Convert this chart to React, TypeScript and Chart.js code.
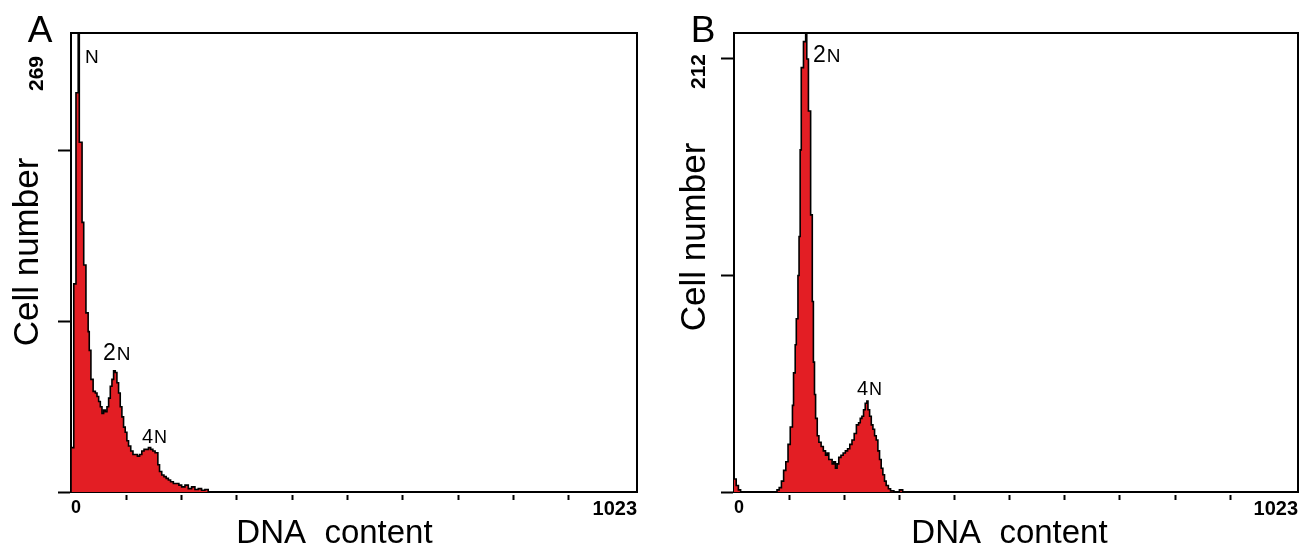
import React, { useEffect, useRef } from 'react';
import { Chart, registerables } from 'chart.js';

Chart.register(...registerables);

const FONT = "'Liberation Sans', Arial, Helvetica, sans-serif";
const RED = 'rgb(227, 30, 36)';

// ---- shared axis data ----
const xMax = 1023;
const xTicks = [0, 100, 200, 300, 400, 500, 600, 700, 800, 900, 1023];
const xTitle = 'DNA  content';
const yTitle = 'Cell number';

// ---- Panel A ----
const aChannels = [1, 5, 9, 13, 15, 20, 23, 27, 31, 33, 36, 40, 44, 47, 50, 53, 56, 59, 62, 65, 68, 71, 74, 77, 80, 83, 86, 89, 92, 95, 98, 101, 104, 108, 112, 116, 120, 124, 128, 132, 136, 140, 144, 148, 152, 157, 160, 164, 168, 172, 176, 180, 185, 190, 195, 200, 206, 212, 218, 224, 230, 236, 242, 248];
const aCounts = [26, 122, 234, 300, 205, 158, 133, 105, 94, 83, 66, 59, 58, 56, 53, 50, 46, 48, 47, 50, 55, 62, 66, 71, 70, 64, 58, 50, 44, 38, 35, 30, 27, 24, 22, 22, 21, 22, 24, 25, 25, 26, 25, 24, 23, 16, 12, 10, 9, 8, 7, 6, 5, 5, 4, 3, 4, 2, 3, 1.5, 2, 1, 1.5, 0];
const aYMax = 269;
const aYTicks = [0, 100, 200, 269];
const aPeakLabels = ['N', '2N', '4N'];

// ---- Panel B ----
const bChannels = [0, 4, 8, 12, 78, 82, 86, 90, 94, 98, 102, 106, 108, 111, 113, 116, 118, 120, 122, 126, 130, 132, 135, 139, 142, 144, 146, 148, 151, 154, 158, 162, 166, 169, 172, 175, 178, 181, 184, 187, 190, 194, 198, 202, 206, 210, 214, 218, 222, 226, 229, 232, 235, 238, 241, 243, 246, 249, 252, 255, 258, 261, 264, 267, 270, 273, 276, 280, 284, 290, 300, 306];
const bCounts = [6, 3, 1, 0, 1, 2, 5, 10, 14, 22, 30, 40, 55, 68, 80, 100, 118, 158, 196, 208, 218, 200, 176, 128, 88, 60, 45, 34, 26, 23, 21, 19, 17, 18, 15, 15, 13, 14, 11, 13, 16, 17, 18, 19, 20, 22, 24, 27, 31, 32, 34, 35, 38, 41, 42, 38, 35, 31, 29, 26, 24, 19, 15, 11, 8, 5, 3, 1.5, 0.5, 0, 1, 0];
const bYMax = 212;
const bYTicks = [0, 100, 200, 212];
const bPeakLabels = ['2N', '4N'];

type PeakPos = { x: number; y: number; digitSize: number; nSize: number };
type Spec = {
  letter: string;
  channels: number[];
  counts: number[];
  yMax: number;
  yTicks: number[];
  peakLabels: string[];
  peakPos: PeakPos[];
  left: number;
  width: number;
  yAxisWidth: number;
  rightPad: number;
  yTickPad: number;
  yLabelOffset: number;
  letterX: number;
  xTitleX: number;
  yTitleX: number;
  yTitleY: number;
};

const specA: Spec = {
  letter: 'A',
  channels: aChannels,
  counts: aCounts,
  yMax: aYMax,
  yTicks: aYTicks,
  peakLabels: aPeakLabels,
  peakPos: [
    { x: 85, y: 63, digitSize: 21, nSize: 19 },
    { x: 103, y: 360, digitSize: 23, nSize: 19 },
    { x: 142, y: 443, digitSize: 20, nSize: 18 },
  ],
  left: 0,
  width: 660,
  yAxisWidth: 71,
  rightPad: 23,
  yTickPad: 31.5,
  yLabelOffset: 23,
  letterX: 40,
  xTitleX: 334.5,
  yTitleX: 38,
  yTitleY: 252,
};

const specB: Spec = {
  letter: 'B',
  channels: bChannels,
  counts: bCounts,
  yMax: bYMax,
  yTicks: bYTicks,
  peakLabels: bPeakLabels,
  peakPos: [
    { x: 153, y: 62, digitSize: 23, nSize: 19 },
    { x: 197, y: 395, digitSize: 20, nSize: 18 },
  ],
  left: 660,
  width: 639,
  yAxisWidth: 74,
  rightPad: 1,
  yTickPad: 32,
  yLabelOffset: 21,
  letterX: 43,
  xTitleX: 349.5,
  yTitleX: 45,
  yTitleY: 237,
};

function makeTextPlugin(s: Spec) {
  return {
    id: 'panelText' + s.letter,
    afterDraw(chart: any) {
      const ctx = chart.ctx as CanvasRenderingContext2D;
      ctx.save();
      ctx.fillStyle = '#000';
      ctx.textBaseline = 'alphabetic';
      ctx.textAlign = 'center';
      ctx.font = `37px ${FONT}`;
      ctx.fillText(s.letter, s.letterX, 42);
      ctx.font = `33px ${FONT}`;
      ctx.fillText(xTitle, s.xTitleX, 543);
      ctx.save();
      ctx.translate(s.yTitleX, s.yTitleY);
      ctx.rotate(-Math.PI / 2);
      ctx.font = `35px ${FONT}`;
      ctx.fillText(yTitle, 0, 0);
      ctx.restore();
      ctx.textAlign = 'left';
      s.peakLabels.forEach((lab, i) => {
        const p = s.peakPos[i];
        const digits = lab.slice(0, -1);
        const n = lab.slice(-1);
        let x = p.x;
        if (digits) {
          ctx.font = `${p.digitSize}px ${FONT}`;
          ctx.fillText(digits, x, p.y);
          x += ctx.measureText(digits).width + 1;
        }
        ctx.font = `${p.nSize}px ${FONT}`;
        ctx.fillText(n, x, p.y);
      });
      ctx.restore();
    },
  };
}

function makeConfig(s: Spec): any {
  const clear = 'rgba(0,0,0,0)';
  return {
    type: 'line',
    data: {
      datasets: [
        {
          data: s.channels.map((c, i) => ({ x: c, y: s.counts[i] })),
          stepped: true,
          fill: 'origin',
          backgroundColor: RED,
          borderColor: '#000',
          borderWidth: 1.6,
          pointRadius: 0,
          tension: 0,
          borderJoinStyle: 'miter',
        },
      ],
    },
    options: {
      animation: false,
      responsive: false,
      devicePixelRatio: 1,
      events: [],
      layout: { padding: { top: 33, right: s.rightPad, left: 0, bottom: 0 } },
      plugins: {
        legend: { display: false },
        tooltip: { enabled: false },
        title: { display: false },
      },
      scales: {
        x: {
          type: 'linear',
          position: 'bottom',
          min: 0,
          max: xMax,
          afterBuildTicks: (sc: any) => {
            sc.ticks = xTicks.map((v) => ({ value: v }));
          },
          afterFit: (sc: any) => {
            sc.height = 53;
          },
          border: { display: true, color: '#000', width: 2 },
          grid: {
            display: true,
            drawOnChartArea: false,
            drawTicks: true,
            tickLength: 8,
            tickWidth: 2,
            tickBorderDash: [5, 2],
            tickBorderDashOffset: 5,
            tickColor: (c: any) =>
              c.tick && (c.tick.value === 0 || c.tick.value === xMax) ? clear : '#000',
          },
          ticks: {
            autoSkip: false,
            minRotation: 0,
            maxRotation: 0,
            align: 'inner',
            padding: -3,
            color: '#000',
            font: (c: any) => ({
              family: FONT,
              size: c.tick && c.tick.value === 0 ? 18 : 20,
              weight: 'bold',
            }),
            callback: (v: number) => (v === 0 || v === xMax ? String(v) : ''),
          },
        },
        y: {
          type: 'linear',
          position: 'left',
          min: 0,
          max: s.yMax,
          afterBuildTicks: (sc: any) => {
            sc.ticks = s.yTicks.map((v) => ({ value: v }));
          },
          afterFit: (sc: any) => {
            sc.width = s.yAxisWidth;
          },
          border: { display: true, color: '#000', width: 2 },
          grid: {
            display: true,
            drawOnChartArea: false,
            drawTicks: true,
            tickLength: 13,
            tickWidth: 2,
            tickColor: (c: any) => (c.tick && c.tick.value === s.yMax ? clear : '#000'),
          },
          ticks: {
            autoSkip: false,
            minRotation: 90,
            maxRotation: 90,
            align: 'start',
            padding: s.yTickPad,
            labelOffset: s.yLabelOffset,
            color: '#000',
            font: { family: FONT, size: 21, weight: 'bold', lineHeight: 1 },
            callback: (v: number) => (v === s.yMax ? String(v) : ''),
          },
        },
        xTop: {
          axis: 'x',
          type: 'linear',
          position: 'top',
          display: true,
          afterFit: (sc: any) => {
            sc.height = 0;
          },
          border: { display: true, color: '#000', width: 2 },
          grid: { display: true, drawOnChartArea: false, drawTicks: false },
          ticks: { display: false },
        },
        yRight: {
          axis: 'y',
          type: 'linear',
          position: 'right',
          display: true,
          afterFit: (sc: any) => {
            sc.width = 0;
          },
          border: { display: true, color: '#000', width: 2 },
          grid: { display: true, drawOnChartArea: false, drawTicks: false },
          ticks: { display: false },
        },
      },
    },
    plugins: [makeTextPlugin(s)],
  };
}

function Panel({ spec }: { spec: Spec }) {
  const ref = useRef<HTMLCanvasElement>(null);
  useEffect(() => {
    const canvas = ref.current;
    if (!canvas) return;
    const chart = new Chart(canvas, makeConfig(spec));
    return () => chart.destroy();
  }, [spec]);
  return (
    <canvas
      ref={ref}
      width={spec.width}
      height={545}
      style={{ position: 'absolute', left: spec.left, top: 0, width: spec.width, height: 545 }}
    />
  );
}

export default function App() {
  return (
    <div
      style={{
        position: 'fixed',
        left: 0,
        top: 0,
        width: 1299,
        height: 545,
        background: '#fff',
        overflow: 'hidden',
      }}
    >
      <Panel spec={specA} />
      <Panel spec={specB} />
    </div>
  );
}
